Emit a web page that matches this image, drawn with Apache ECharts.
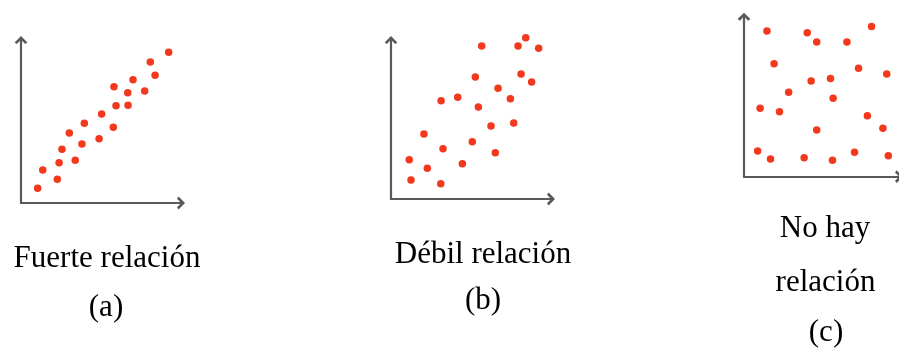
<!DOCTYPE html>
<html>
<head>
<meta charset="utf-8">
<script src="https://cdn.jsdelivr.net/npm/echarts@6/dist/echarts.min.js"></script>
<style>
  html, body { margin: 0; padding: 0; background: #fff; }
  #chart { width: 899px; height: 351px; }
</style>
</head>
<body>
<div id="chart"></div>
<script>
// datos (escala 0-100 en cada panel)
var fuerte = [
  [10.4, 9.0], [13.6, 20.2], [22.7, 14.5], [23.8, 24.7], [25.6, 32.9],
  [30.2, 42.9], [33.9, 26.2], [38.1, 36.2], [39.6, 48.9], [48.8, 39.4],
  [50.4, 54.6], [57.7, 46.4], [58.1, 71.3], [59.4, 59.7], [66.7, 67.7],
  [66.9, 59.9], [70.0, 75.6], [77.3, 68.7], [80.8, 86.5], [83.8, 78.3],
  [92.3, 92.5]
];
var debil = [
  [11.4, 24.7], [12.5, 11.9], [20.6, 40.9], [22.7, 19.3], [31.1, 9.6],
  [31.3, 61.8], [32.5, 31.6], [41.7, 64.0], [44.6, 22.2], [50.8, 36.0],
  [52.7, 76.7], [54.6, 57.9], [56.7, 96.2], [62.5, 45.9], [65.2, 29.1],
  [66.9, 69.6], [74.6, 63.1], [76.7, 47.8], [79.4, 96.2], [81.3, 78.6],
  [84.2, 101.4], [87.9, 73.6], [92.3, 94.8]
];
var nada = [
  [14.8, 91.1], [40.8, 90.0], [46.9, 84.2], [66.4, 84.2], [82.3, 93.8],
  [19.4, 70.6], [73.9, 67.8], [92.1, 64.2], [43.3, 59.8], [55.8, 61.3],
  [28.8, 52.8], [57.5, 49.0], [10.4, 42.8], [22.9, 40.6], [79.6, 38.1],
  [89.6, 30.3], [46.9, 29.2], [8.8, 16.1], [17.1, 11.1], [38.8, 11.9],
  [57.1, 10.3], [71.3, 15.3], [93.1, 13.1]
];
var etiquetas = [
  ['Fuerte relación', '(a)'],
  ['Débil relación', '(b)'],
  ['No hay', 'relación', '(c)']
];

var chart = echarts.init(document.getElementById('chart'));

var flecha = 'path://M0,10 L10,0 L20,10 L16.5,12.5 L10,6 L3.5,12.5 Z';
var gris = '#595959';
var rojo = '#f2391e';

function eje(i) {
  return {
    type: 'value', gridIndex: i, min: 0, max: 100,
    axisLine: {
      show: true, onZero: false,
      symbol: ['none', flecha], symbolSize: [14, 8],
      lineStyle: { color: gris, width: 2.2 }
    },
    axisTick: { show: false },
    axisLabel: { show: false },
    splitLine: { show: false }
  };
}

function serie(i, datos) {
  return {
    type: 'scatter', xAxisIndex: i, yAxisIndex: i,
    data: datos, symbolSize: 7.5, clip: false,
    itemStyle: { color: rojo, opacity: 1 }
  };
}

// posiciones de los textos: [centro x, top]
var textos = [
  [107, 243], [106, 292],
  [483, 239], [483, 285],
  [825, 213], [825.5, 267], [826, 317]
];
var planos = [].concat(etiquetas[0], etiquetas[1], etiquetas[2]);
var titulos = planos.map(function (t, k) {
  return {
    text: t, left: textos[k][0], top: textos[k][1], textAlign: 'center',
    padding: 0,
    textStyle: { fontFamily: 'Liberation Serif', fontSize: 31, fontWeight: 'normal', color: '#000', lineHeight: 31 }
  };
});

var option = {
  animation: false,
  backgroundColor: '#fff',
  title: titulos,
  grid: [
    { left: 21, top: 40, width: 160, height: 163 },
    { left: 391, top: 40, width: 160, height: 159 },
    { left: 744, top: 16.7, width: 160, height: 160 }
  ],
  xAxis: [eje(0), eje(1), eje(2)],
  yAxis: [eje(0), eje(1), eje(2)],
  series: [serie(0, fuerte), serie(1, debil), serie(2, nada)]
};

chart.setOption(option);
</script>
</body>
</html>
